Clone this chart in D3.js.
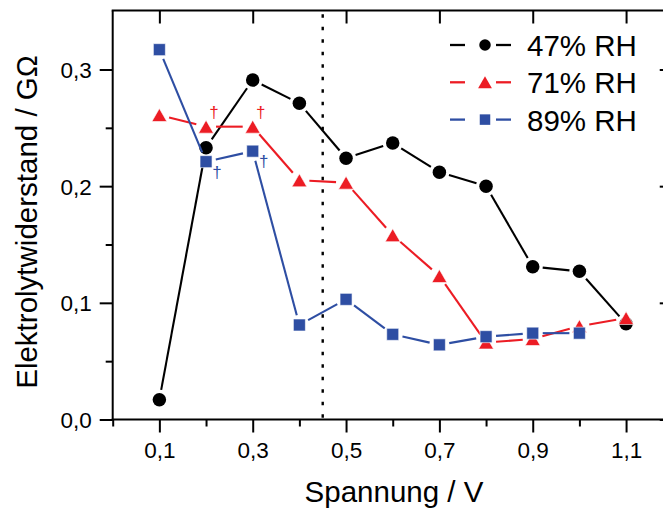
<!DOCTYPE html>
<html>
<head>
<meta charset="utf-8">
<script src="https://cdn.jsdelivr.net/npm/d3@7"></script>
<style>
  html, body { margin: 0; padding: 0; background: #fff; }
  svg { display: block; }
  text { font-family: "Liberation Sans", Arial, sans-serif; fill: #000; }
</style>
</head>
<body>
<svg id="chart" width="663" height="512"></svg>
<script>
// Spannung (V) at which the resistance was measured
const voltage = [0.1, 0.2, 0.3, 0.4, 0.5, 0.6, 0.7, 0.8, 0.9, 1.0, 1.1];

// Elektrolytwiderstand (GΩ) per relative humidity
const rh47 = [0.017, 0.233, 0.291, 0.271, 0.224, 0.237, 0.212, 0.200, 0.131, 0.127, 0.082];
const rh71 = [0.261, 0.251, 0.251, 0.205, 0.203, 0.158, 0.123, 0.066, 0.069, 0.080, 0.087];
const rh89 = [0.317, 0.221, 0.230, 0.081, 0.103, 0.073, 0.064, 0.071, 0.074, 0.074];

const seriesNames = ["47% RH", "71% RH", "89% RH"];

// Axis ticks
const xMajorTicks = [0.1, 0.3, 0.5, 0.7, 0.9, 1.1];
const xMinorTicks = [0.0, 0.2, 0.4, 0.6, 0.8, 1.0, 1.2];
const yMajorTicks = [0.0, 0.1, 0.2, 0.3];
const yMinorTicks = [0.05, 0.15, 0.25];

// Voltage marked by the dotted reference line
const markerVoltage = 0.45;

// Points flagged with a dagger (series index, voltage)
const daggers = [[1, 0.2], [1, 0.3], [2, 0.2], [2, 0.3]];

const fmt = d => d3.format(".1f")(d).replace(".", ",");

const svg = d3.select("#chart");
const plotLeft = 112.7, plotTop = 10.5, plotBottom = 419.5;
const x = d3.scaleLinear().domain([0, 1.2]).range([plotLeft, plotLeft + 1.2 * 466.7]);
const y = d3.scaleLinear().domain([0, 0.35]).range([plotBottom, plotBottom - 0.35 * 1166.7]);
const plotRight = x(1.2);

const colors = ["#000000", "#ec1c24", "#2e4ea3"];
const symbols = ["circle", "triangle", "square"];

function markerPath(type, s) {
  if (type === "circle") {
    const r = s / 2;
    return `M${-r},0A${r},${r} 0 1,0 ${r},0A${r},${r} 0 1,0 ${-r},0Z`;
  }
  if (type === "triangle") {
    const w = s * 1.15 / 2, h = s / 2;
    return `M0,${-h}L${w},${h}L${-w},${h}Z`;
  }
  const h = s / 2;
  return `M${-h},${-h}H${h}V${h}H${-h}Z`;
}

// Dotted vertical reference line
svg.append("line")
  .attr("x1", x(markerVoltage)).attr("x2", x(markerVoltage))
  .attr("y1", y(0.35) + 3).attr("y2", y(0))
  .attr("stroke", "#000").attr("stroke-width", 2.4)
  .attr("stroke-dasharray", "3.5,9");

// Frame: left and bottom axes with outward ticks, top and right with inward ticks
const axisG = svg.append("g").attr("stroke", "#000").attr("stroke-width", 2);
axisG.append("line").attr("x1", plotLeft).attr("x2", plotLeft).attr("y1", plotTop).attr("y2", plotBottom);
axisG.append("line").attr("x1", plotLeft - 1).attr("x2", plotRight).attr("y1", plotBottom).attr("y2", plotBottom);
axisG.append("line").attr("x1", plotLeft - 1).attr("x2", plotRight).attr("y1", plotTop).attr("y2", plotTop);
axisG.append("line").attr("x1", plotRight).attr("x2", plotRight).attr("y1", plotTop).attr("y2", plotBottom);

const xAxis = d3.axisBottom(x).tickValues(xMajorTicks).tickSize(13).tickPadding(10).tickFormat(fmt);
const gx = svg.append("g").attr("transform", `translate(0,${plotBottom})`).call(xAxis);
svg.append("g").attr("transform", `translate(0,${plotBottom})`)
  .call(d3.axisBottom(x).tickValues(xMinorTicks).tickSize(7).tickFormat(""));
svg.append("g").attr("transform", `translate(0,${plotTop})`)
  .call(d3.axisBottom(x).tickValues(xMajorTicks).tickSize(13).tickFormat(""));

const yAxis = d3.axisLeft(y).tickValues(yMajorTicks).tickSize(13).tickPadding(8).tickFormat(fmt);
const gy = svg.append("g").attr("transform", `translate(${plotLeft},0)`).call(yAxis);
svg.append("g").attr("transform", `translate(${plotLeft},0)`)
  .call(d3.axisLeft(y).tickValues(yMinorTicks).tickSize(7).tickFormat(""));
svg.append("g").attr("transform", `translate(${plotRight},0)`)
  .call(d3.axisRight(y).tickValues(yMajorTicks).tickSize(-13).tickFormat(""));

svg.selectAll(".domain").remove();
svg.selectAll(".tick line").attr("stroke", "#000").attr("stroke-width", 2);
gx.selectAll(".tick text").style("font-size", "22.5px").attr("font-family", null);
gy.selectAll(".tick text").style("font-size", "22.5px").attr("font-family", null).attr("dy", "0.36em");

// Axis titles
svg.append("text")
  .attr("x", 394).attr("y", 502)
  .attr("text-anchor", "middle")
  .style("font-size", "29.5px")
  .text("Spannung / V");
svg.append("text")
  .attr("transform", "translate(37,222) rotate(-90)")
  .attr("text-anchor", "middle")
  .style("font-size", "29.5px")
  .text("Elektrolytwiderstand / GΩ");

// Series: line segments stop short of each symbol, symbols drawn on top
const seriesData = [rh47, rh71, rh89].map(vals => vals.map((v, i) => [voltage[i], v]));
const gap = 10;
const markerSize = [13.5, 13, 12];

seriesData.forEach((pts, si) => {
  const g = svg.append("g");
  const segs = d3.pairs(pts).map(([a, b]) => {
    const x1 = x(a[0]), y1 = y(a[1]), x2 = x(b[0]), y2 = y(b[1]);
    const len = Math.hypot(x2 - x1, y2 - y1);
    const ux = (x2 - x1) / len, uy = (y2 - y1) / len;
    return { x1: x1 + ux * gap, y1: y1 + uy * gap, x2: x2 - ux * gap, y2: y2 - uy * gap, ok: len > 2 * gap };
  }).filter(s => s.ok);
  g.selectAll("line").data(segs).join("line")
    .attr("x1", d => d.x1).attr("y1", d => d.y1)
    .attr("x2", d => d.x2).attr("y2", d => d.y2)
    .attr("stroke", colors[si]).attr("stroke-width", 2.1);
  g.selectAll("path").data(pts).join("path")
    .attr("transform", d => `translate(${x(d[0])},${y(d[1])})`)
    .attr("d", markerPath(symbols[si], markerSize[si]))
    .attr("fill", colors[si])
    .attr("stroke", si === 0 ? "none" : "#ffffff")
    .attr("stroke-opacity", 0.6)
    .attr("stroke-width", 1);
});

// Dagger annotations next to flagged points
const daggerOffset = { 1: [8, -14], 2: [11, 11] };
svg.append("g").selectAll("text").data(daggers).join("text")
  .attr("x", d => x(d[1]) + daggerOffset[d[0]][0])
  .attr("y", d => y(seriesData[d[0]].find(p => p[0] === d[1])[1]) + daggerOffset[d[0]][1] + 5)
  .attr("text-anchor", "middle")
  .style("font-size", "17px")
  .style("fill", d => colors[d[0]])
  .text("†");

// Legend
const legend = svg.append("g").attr("transform", "translate(450,45)");
seriesNames.forEach((name, i) => {
  const row = legend.append("g").attr("transform", `translate(0,${i * 37.3})`);
  row.append("line").attr("x1", 0).attr("x2", 15).attr("stroke", colors[i]).attr("stroke-width", 2.3);
  row.append("line").attr("x1", 46).attr("x2", 61).attr("stroke", colors[i]).attr("stroke-width", 2.3);
  row.append("path").attr("transform", "translate(35,0)")
    .attr("d", markerPath(symbols[i], [11.5, 12, 10.5][i])).attr("fill", colors[i]);
  row.append("text").attr("x", 77).attr("y", 11)
    .style("font-size", "29.5px").text(name);
});
</script>
</body>
</html>
